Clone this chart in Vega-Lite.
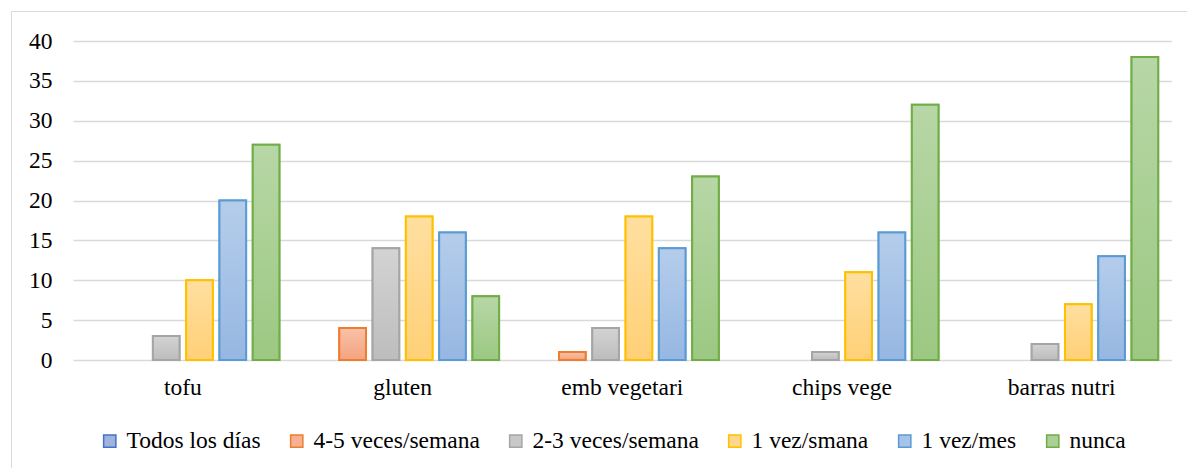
{
  "$schema": "https://vega.github.io/schema/vega-lite/v6.json",
  "width": 1180,
  "height": 460,
  "autosize": {"type": "none"},
  "padding": {"left": 11, "top": 11, "right": 0, "bottom": 0},
  "background": "white",
  "config": {
    "font": "Liberation Serif",
    "view": {"stroke": "#D9D9D9", "strokeWidth": 1}
  },
  "data": {
    "values": [
      {"cat": "tofu", "serie": "Todos los días", "value": 0},
      {"cat": "tofu", "serie": "4-5 veces/semana", "value": 0},
      {"cat": "tofu", "serie": "2-3 veces/semana", "value": 3},
      {"cat": "tofu", "serie": "1 vez/smana", "value": 10},
      {"cat": "tofu", "serie": "1 vez/mes", "value": 20},
      {"cat": "tofu", "serie": "nunca", "value": 27},
      {"cat": "gluten", "serie": "Todos los días", "value": 0},
      {"cat": "gluten", "serie": "4-5 veces/semana", "value": 4},
      {"cat": "gluten", "serie": "2-3 veces/semana", "value": 14},
      {"cat": "gluten", "serie": "1 vez/smana", "value": 18},
      {"cat": "gluten", "serie": "1 vez/mes", "value": 16},
      {"cat": "gluten", "serie": "nunca", "value": 8},
      {"cat": "emb vegetari", "serie": "Todos los días", "value": 0},
      {"cat": "emb vegetari", "serie": "4-5 veces/semana", "value": 1},
      {"cat": "emb vegetari", "serie": "2-3 veces/semana", "value": 4},
      {"cat": "emb vegetari", "serie": "1 vez/smana", "value": 18},
      {"cat": "emb vegetari", "serie": "1 vez/mes", "value": 14},
      {"cat": "emb vegetari", "serie": "nunca", "value": 23},
      {"cat": "chips vege", "serie": "Todos los días", "value": 0},
      {"cat": "chips vege", "serie": "4-5 veces/semana", "value": 0},
      {"cat": "chips vege", "serie": "2-3 veces/semana", "value": 1},
      {"cat": "chips vege", "serie": "1 vez/smana", "value": 11},
      {"cat": "chips vege", "serie": "1 vez/mes", "value": 16},
      {"cat": "chips vege", "serie": "nunca", "value": 32},
      {"cat": "barras nutri", "serie": "Todos los días", "value": 0},
      {"cat": "barras nutri", "serie": "4-5 veces/semana", "value": 0},
      {"cat": "barras nutri", "serie": "2-3 veces/semana", "value": 2},
      {"cat": "barras nutri", "serie": "1 vez/smana", "value": 7},
      {"cat": "barras nutri", "serie": "1 vez/mes", "value": 13},
      {"cat": "barras nutri", "serie": "nunca", "value": 38}
    ]
  },
  "transform": [{"filter": "datum.value > 0"}],
  "encoding": {
    "x": {
      "field": "cat",
      "type": "nominal",
      "sort": null,
      "scale": {
        "domain": ["tofu", "gluten", "emb vegetari", "chips vege", "barras nutri"],
        "range": [62, 1160.5],
        "paddingInner": 0,
        "paddingOuter": 0
      },
      "axis": {
        "title": null,
        "orient": "bottom",
        "offset": -111,
        "domain": false,
        "ticks": false,
        "grid": false,
        "labelAngle": 0,
        "labelPadding": 15,
        "labelFont": "Liberation Serif",
        "labelFontSize": 23.5,
        "labelColor": "#000000"
      }
    },
    "xOffset": {
      "field": "serie",
      "type": "nominal",
      "sort": null,
      "scale": {
        "domain": ["Todos los días", "4-5 veces/semana", "2-3 veces/semana", "1 vez/smana", "1 vez/mes", "nunca"],
        "paddingInner": 0.2,
        "paddingOuter": 0.4
      }
    },
    "y": {
      "field": "value",
      "type": "quantitative",
      "scale": {"domain": [0, 40], "range": [349, 30], "nice": false, "zero": true},
      "axis": {
        "title": null,
        "orient": "left",
        "offset": -62,
        "values": [0, 5, 10, 15, 20, 25, 30, 35, 40],
        "domain": false,
        "ticks": false,
        "labelPadding": 21,
        "labelFont": "Liberation Serif",
        "labelFontSize": 23.5,
        "labelColor": "#000000",
        "grid": true,
        "gridColor": "#D9D9D9",
        "gridWidth": 1.3
      }
    }
  },
  "layer": [
    {
      "mark": {"type": "bar", "strokeWidth": 2},
      "encoding": {
        "fill": {
          "field": "serie",
          "type": "nominal",
          "sort": null,
          "scale": {
            "domain": ["Todos los días", "4-5 veces/semana", "2-3 veces/semana", "1 vez/smana", "1 vez/mes", "nunca"],
            "range": ["#A0B3E0", "#F6B192", "#C8C8C8", "#FFD78A", "#A7C3E7", "#ABCF95"]
          },
          "legend": {
            "title": null,
            "orient": "none",
            "legendX": 87,
            "legendY": 418,
            "direction": "horizontal",
            "symbolType": "square",
            "symbolSize": 150,
            "symbolStrokeWidth": 1.5,
            "labelFont": "Liberation Serif",
            "labelFontSize": 23.5,
            "labelColor": "#000000",
            "labelOffset": 5,
            "labelLimit": 400,
            "columnPadding": 24
          }
        },
        "stroke": {
          "field": "serie",
          "type": "nominal",
          "sort": null,
          "scale": {
            "domain": ["Todos los días", "4-5 veces/semana", "2-3 veces/semana", "1 vez/smana", "1 vez/mes", "nunca"],
            "range": ["#4472C4", "#ED7D31", "#A5A5A5", "#FFC000", "#5B9BD5", "#70AD47"]
          },
          "legend": {
            "title": null,
            "orient": "none",
            "legendX": 87,
            "legendY": 418,
            "direction": "horizontal",
            "symbolType": "square",
            "symbolSize": 150,
            "symbolStrokeWidth": 1.5,
            "labelFont": "Liberation Serif",
            "labelFontSize": 23.5,
            "labelColor": "#000000",
            "labelOffset": 5,
            "labelLimit": 400,
            "columnPadding": 24
          }
        }
      }
    },
    {
      "transform": [{"filter": "datum.serie === '4-5 veces/semana'"}],
      "mark": {
        "type": "bar", "strokeWidth": 2, "stroke": "#ED7D31",
        "fill": {"gradient": "linear", "x1": 0, "y1": 0, "x2": 0, "y2": 1,
          "stops": [{"offset": 0, "color": "#F8C1A8"}, {"offset": 1, "color": "#F4A47F"}]}
      },
      "encoding": {}
    },
    {
      "transform": [{"filter": "datum.serie === '2-3 veces/semana'"}],
      "mark": {
        "type": "bar", "strokeWidth": 2, "stroke": "#A5A5A5",
        "fill": {"gradient": "linear", "x1": 0, "y1": 0, "x2": 0, "y2": 1,
          "stops": [{"offset": 0, "color": "#D3D3D3"}, {"offset": 1, "color": "#BDBDBD"}]}
      },
      "encoding": {}
    },
    {
      "transform": [{"filter": "datum.serie === '1 vez/smana'"}],
      "mark": {
        "type": "bar", "strokeWidth": 2, "stroke": "#FFC000",
        "fill": {"gradient": "linear", "x1": 0, "y1": 0, "x2": 0, "y2": 1,
          "stops": [{"offset": 0, "color": "#FFDFA0"}, {"offset": 1, "color": "#FFD077"}]}
      },
      "encoding": {}
    },
    {
      "transform": [{"filter": "datum.serie === '1 vez/mes'"}],
      "mark": {
        "type": "bar", "strokeWidth": 2, "stroke": "#5B9BD5",
        "fill": {"gradient": "linear", "x1": 0, "y1": 0, "x2": 0, "y2": 1,
          "stops": [{"offset": 0, "color": "#B5CDEB"}, {"offset": 1, "color": "#96B7E2"}]}
      },
      "encoding": {}
    },
    {
      "transform": [{"filter": "datum.serie === 'nunca'"}],
      "mark": {
        "type": "bar", "strokeWidth": 2, "stroke": "#70AD47",
        "fill": {"gradient": "linear", "x1": 0, "y1": 0, "x2": 0, "y2": 1,
          "stops": [{"offset": 0, "color": "#B7D7A6"}, {"offset": 1, "color": "#9CC882"}]}
      },
      "encoding": {}
    }
  ]
}
